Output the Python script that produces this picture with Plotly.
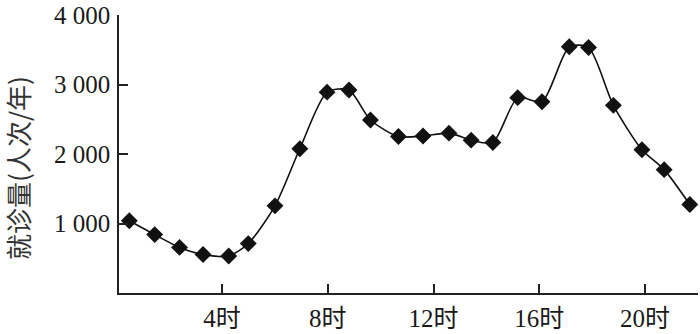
import plotly.graph_objects as go

hours = [0.49, 1.45, 2.39, 3.28, 4.25, 4.99, 6.0, 6.94, 7.97, 8.80, 9.61, 10.67,
         11.6, 12.58, 13.42, 14.24, 15.18, 16.1, 17.13, 17.86, 18.8, 19.88, 20.72, 21.69]
visits = [1039, 840, 656, 555, 532, 711, 1254, 2075, 2890, 2921, 2489, 2251,
          2258, 2300, 2199, 2166, 2811, 2751, 3543, 3533, 2700, 2061, 1775, 1273]
x_tick_vals = [4, 8, 12, 16, 20, 22]
x_tick_text = ["4时", "8时", "12时", "16时", "20时", ""]
y_tick_vals = [1000, 2000, 3000, 4000]
y_tick_text = ["1 000", "2 000", "3 000", "4 000"]
y_title = "就诊量(人次/年)"

font_serif = "Liberation Serif, Noto Sans CJK SC, serif"

fig = go.Figure()
fig.add_trace(go.Scatter(
    x=hours, y=visits, mode="lines+markers", cliponaxis=False,
    line=dict(color="#111111", width=1.6, shape="spline", smoothing=0.7),
    marker=dict(symbol="diamond", size=13, color="#111111"),
    showlegend=False,
))

fig.update_layout(
    width=700, height=334,
    margin=dict(l=119, r=2, t=8, b=37),
    paper_bgcolor="white", plot_bgcolor="white",
    font=dict(family=font_serif, size=25, color="#1a1a1a"),
)
fig.update_xaxes(
    range=[0.1, 22], tickvals=x_tick_vals, ticktext=x_tick_text,
    ticks="inside", ticklen=9, tickwidth=1.5, tickcolor="#222",
    showline=True, linecolor="#222", linewidth=1.5, showgrid=False, zeroline=False,
    tickfont=dict(family=font_serif, size=25, color="#1a1a1a"),
    ticklabelstandoff=2,
)
fig.update_yaxes(
    range=[0, 4000], tickvals=y_tick_vals, ticktext=y_tick_text,
    ticks="inside", ticklen=9, tickwidth=1.5, tickcolor="#222",
    showline=True, linecolor="#222", linewidth=1.5, showgrid=False, zeroline=False,
    tickfont=dict(family=font_serif, size=25, color="#1a1a1a"),
    ticklabelstandoff=2, ticklabeloverflow="allow",
)
fig.add_annotation(
    text=y_title, textangle=-90, showarrow=False,
    xref="paper", yref="paper", x=(18 - 119) / 579, y=0.45,
    xanchor="center", yanchor="middle",
    font=dict(family="Noto Sans CJK SC", size=26, color="#333"),
)

fig.write_html("out.html", config={"displayModeBar": False},
               post_script="document.body.style.margin='0';document.body.style.overflow='hidden';")
